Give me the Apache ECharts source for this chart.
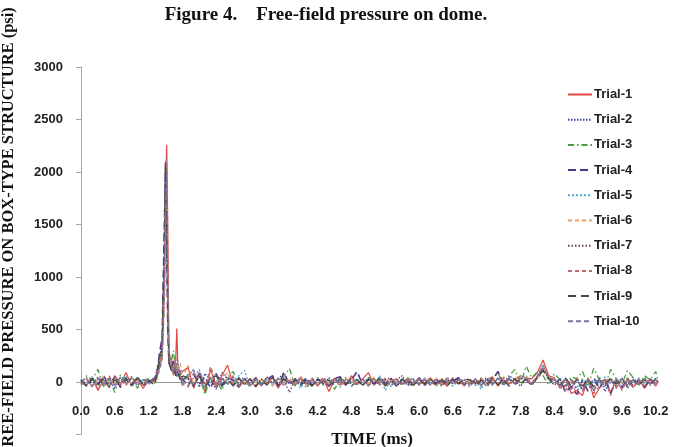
<!DOCTYPE html>
<html>
<head>
<meta charset="utf-8">
<script src="https://cdn.jsdelivr.net/npm/echarts@6/dist/echarts.min.js"></script>
<style>
  html, body { margin: 0; padding: 0; background: #fff; }
  #chart { width: 673px; height: 447px; }
</style>
</head>
<body>
<div id="chart"></div>
<script>
// sample times (ms): coarse 0.1 grid, finer around the blast peak
const times = [
  0.0, 0.1, 0.2, 0.3, 0.4, 0.5, 0.6, 0.7, 0.8, 0.9, 1.0, 1.1, 1.2,
  1.3, 1.35, 1.4, 1.44, 1.48, 1.5, 1.52, 1.54, 1.56, 1.6, 1.64, 1.68, 1.7, 1.72, 1.76, 1.8,
  1.9, 2.0, 2.1, 2.2, 2.3, 2.4, 2.5, 2.6, 2.7, 2.8,
  2.9, 3.0, 3.1, 3.2, 3.3, 3.4, 3.5, 3.6, 3.7, 3.8,
  3.9, 4.0, 4.1, 4.2, 4.3, 4.4, 4.5, 4.6, 4.7, 4.8,
  4.9, 5.0, 5.1, 5.2, 5.3, 5.4, 5.5, 5.6, 5.7, 5.8,
  5.9, 6.0, 6.1, 6.2, 6.3, 6.4, 6.5, 6.6, 6.7, 6.8,
  6.9, 7.0, 7.1, 7.2, 7.3, 7.4, 7.5, 7.6, 7.7, 7.8,
  7.9, 8.0, 8.1, 8.2, 8.3, 8.4, 8.5, 8.6, 8.7, 8.8,
  8.9, 9.0, 9.1, 9.2, 9.3, 9.4, 9.5, 9.6, 9.7, 9.8,
  9.9, 10.0, 10.1, 10.2, 10.24
];

// x labels every 0.6 ms
const xTickStep = 0.6;
const xTicks = [0.0, 0.6, 1.2, 1.8, 2.4, 3.0, 3.6, 4.2, 4.8, 5.4, 6.0, 6.6, 7.2, 7.8, 8.4, 9.0, 9.6, 10.2];

const trial1 = [
  0, -30, 40, -80, 20, -50, 60, -20, 90, -40, 30, -60, 10,
  20, 60, 180, 250, 900, 1800, 2260, 1500, 300, 150, 80, 200, 510, 120, 60, 100,
  140, -60, 90, -100, 120, -40, 60, 160, -30, 40,
  -20, 30, -50, 20, -10, 40, -60, 30, 10, -30,
  50, -20, 20, -40, 30, -90, 20, 10, -30, 60,
  -20, 30, 90, -30, 20, -40, 10, 30, -20, 40,
  -30, 20, -10, 40, -20, 10, -40, 30, -10, 20,
  -20, 30, -30, 20, 50, -40, 20, -20, 30, 60,
  40, 30, 90, 210, 60, 40, -60, 30, -110, -80,
  -130, 40, -150, -60, 30, -100, 20, -70, 40, -50,
  30, -60, 20, -40, 10
];
const trial2 = [
  10, 40, -30, 50, -40, 20, -60, 40, -20, 50, -30, 20, -10,
  10, 120, 240, 380, 1300, 2100, 1700, 600, 200, 250, 120, 60, 180, 90, 40, 20,
  60, 120, -50, 80, 20, -70, 90, 30, -40, 20,
  40, -30, 20, -20, 50, -10, 30, 80, -20, 10,
  -30, 20, -40, 30, -20, 40, -10, 20, -30, 10,
  20, -30, 40, -20, 10, 30, -40, 20, 60, -20,
  10, -20, 30, -30, 20, -10, 40, -20, 10, -30,
  20, -30, 10, 40, -20, 30, -10, 60, 20, -40,
  30, -20, 60, 150, 40, 20, -30, 40, -60, 30,
  -80, 20, -40, 50, -90, 30, -20, 40, -60, 20,
  -30, 40, -20, 30, 0
];
const trial3 = [
  -20, 60, 20, 120, -50, 30, -100, 70, -30, 40, -60, 20, 30,
  -20, 40, 150, 220, 800, 1600, 2050, 900, 260, 180, 300, 120, 80, 150, 60, -40,
  80, -40, 60, -120, 40, 20, -80, 50, 100, -30,
  20, -50, 30, -20, 40, 20, -30, 50, 130, -40,
  30, -60, 20, 40, -30, 20, -70, 30, 10, -40,
  20, -30, 50, -20, 30, -40, 20, 10, -30, 40,
  -20, 30, -10, 20, -40, 30, 10, -20, 40, -30,
  30, -20, 40, -50, 20, 90, -30, 60, 120, -20,
  150, 40, 100, 60, -30, 80, 20, -40, 50, 30,
  100, -30, 130, 20, -40, 120, 30, -20, 110, 40,
  -30, 60, 20, 100, 20
];
const trial4 = [
  20, -40, 30, -20, 60, -30, 40, -50, 20, -20, 40, -30, 0,
  30, 90, 300, 420, 1500, 2080, 1400, 500, 180, 120, 200, 90, 60, 40, 110, 30,
  -40, 70, -20, 50, -60, 80, -30, 40, 20, -50,
  30, -20, 40, -30, 20, 60, -40, 90, -20, 30,
  -20, 40, -30, 20, 10, -40, 30, 50, -20, 20,
  100, -30, 20, -20, 40, -10, 30, -40, 20, 10,
  -20, 40, -30, 20, -10, 30, -20, 10, 40, -30,
  20, -10, 30, -40, 20, 100, -20, 30, -30, 40,
  20, -30, 50, 110, 30, -20, 30, -100, -40, -120,
  20, -90, 40, -60, 30, -110, 20, -50, 30, -40,
  20, -50, 30, -20, 10
];
const trial5 = [
  30, -20, 50, -60, 20, -30, 40, -20, 60, -40, 20, 10, -20,
  0, 70, 160, 260, 1000, 1950, 1600, 700, 220, 160, 90, 140, 60, 200, 50, 10,
  -30, 40, 120, -60, 30, 80, -50, 20, -30, 60,
  110, -40, 30, -20, 20, -30, 40, -20, 10, 30,
  -60, 20, 10, -30, 40, -20, 30, -50, 20, -10,
  30, -20, 40, -30, 60, -80, 20, -20, 30, -40,
  20, -30, 40, -10, 30, -20, 10, -40, 20, 30,
  -50, 20, -70, 30, -20, 40, -30, 20, -10, 50,
  60, -10, 40, 170, 30, -20, 40, -30, 20, -60,
  30, -40, 20, -30, 50, -20, 30, -60, 20, -10,
  40, -20, 30, -30, 10
];
const trial6 = [
  -10, 30, -40, 20, 50, -20, 30, -30, 40, -20, 10, -30, 20,
  -10, 30, 120, 200, 700, 1500, 1900, 1100, 300, 140, 60, 100, 170, 70, 180, 40,
  160, -20, 50, -40, 70, -60, 30, 90, -30, 20,
  -20, 40, -30, 20, 10, -40, 30, -20, 40, -10,
  20, -30, 40, -20, 30, -10, 20, -40, 30, 20,
  -30, 20, -20, 40, -30, 30, -10, 20, -30, 10,
  30, -20, 10, -30, 40, -20, 30, -10, 20, -40,
  20, -30, 40, -20, 30, -40, 50, -20, 30, 20,
  40, -20, 30, 100, 20, 20, -40, 30, -20, 40,
  -30, 20, -60, 30, -20, 40, -40, 30, -30, 20,
  -20, 30, -10, 20, 0
];
const trial7 = [
  20, -30, 40, -40, 30, -20, 50, -30, 20, -40, 30, -20, 10,
  20, 100, 260, 350, 1200, 2000, 1800, 800, 240, 100, 150, 70, 120, 60, 30, 50,
  30, -50, 80, -30, 40, -60, 20, 50, -40, 30,
  -30, 20, -40, 30, -20, 50, -30, 20, -100, 30,
  20, -20, 30, -30, 20, -40, 30, -20, 40, -30,
  -20, 30, -40, 20, -30, 20, 40, -20, 30, -30,
  20, -30, 20, -20, 30, -40, 20, -10, 30, -20,
  -30, 20, -40, 30, -20, 30, -30, 40, -20, 30,
  20, -30, 40, 120, 30, -30, 20, -50, 30, -70,
  -60, 30, -80, 20, -40, 30, -50, 20, -30, 40,
  -20, 30, -30, 20, 10
];
const trial8 = [
  -20, 30, -50, 40, -30, 60, -40, 20, -30, 50, -20, 30, -10,
  10, 50, 200, 300, 1100, 1900, 2150, 1000, 280, 200, 110, 250, 90, 130, 40, -20,
  -50, 90, 30, -70, 150, -20, 40, -30, 60, -40,
  20, -30, 50, -40, 30, -20, 40, -30, 20, -20,
  30, -40, 20, -30, 50, -20, 30, -30, 20, 40,
  -30, 20, -40, 30, -20, 40, -30, 20, -20, 30,
  -20, 30, -30, 20, -40, 30, -20, 40, -30, 20,
  30, -20, 30, -30, 20, -20, 40, -30, 20, -20,
  30, -10, 60, 160, 40, 30, -50, -80, 20, -120,
  -90, 30, -110, -40, 20, -130, 30, -80, 20, -60,
  20, -40, 30, -30, 0
];
const trial9 = [
  10, -40, 30, -30, 40, -50, 20, -20, 40, -30, 50, -20, 20,
  -30, 80, 220, 320, 1400, 2050, 1500, 650, 200, 130, 180, 60, 100, 80, 20, 60,
  40, -30, 60, -50, 30, 60, -40, 20, -30, 40,
  -20, 30, -40, 20, -30, 40, -20, 30, -20, 20,
  -30, 20, -40, 30, -20, 20, -30, 40, -20, 30,
  20, -30, 30, -20, 40, -30, 20, -40, 30, -20,
  -30, 20, -20, 30, -30, 20, -40, 30, -20, 30,
  20, -30, 20, -20, 40, -30, 20, -40, 30, -20,
  30, -20, 40, 110, 30, 20, -30, 40, -40, 30,
  -40, 30, -50, 20, -30, 40, -20, 30, -40, 20,
  -30, 20, -20, 30, 10
];
const trial10 = [
  -30, 20, -40, 30, -20, 40, -30, 50, -20, 30, -40, 20, 0,
  40, 60, 140, 240, 950, 1750, 1980, 850, 250, 170, 70, 160, 50, 110, 90, 0,
  50, -40, 100, -20, 40, -50, 30, -20, 50, -30,
  30, -20, 20, -30, 40, -20, 30, -40, 20, -30,
  20, -30, 30, -20, 20, -30, 40, -20, 30, -20,
  -20, 30, -30, 40, -20, 30, -40, 20, -30, 20,
  30, -20, 30, -30, 20, -30, 40, -20, 20, -30,
  -20, 30, -30, 20, -30, 40, -20, 30, -20, 40,
  20, -20, 50, 130, 40, 20, -40, 30, -70, 20,
  -70, 20, -90, 30, -40, 20, -60, 30, -30, 20,
  -20, 30, -20, 20, 0
];

const trials = [trial1, trial2, trial3, trial4, trial5, trial6, trial7, trial8, trial9, trial10];
const names = ['Trial-1', 'Trial-2', 'Trial-3', 'Trial-4', 'Trial-5', 'Trial-6', 'Trial-7', 'Trial-8', 'Trial-9', 'Trial-10'];
const colors = ['#e0473f', '#34439e', '#47a040', '#55358a', '#4ea6cc', '#ee9a66', '#6e4050', '#c06e6e', '#3c4e42', '#7f6f9a'];
const dashes = ['solid', [1.5, 1.5], [6, 3, 1.5, 3], [8, 4], [2, 2], [4, 3], [1.5, 2], [4, 3], [8, 5], [5, 3]];
const widths = [1.2, 1.3, 1.3, 1.6, 1.3, 1.3, 1.3, 1.3, 1.3, 1.3];

trials.forEach(function (t, i) {
  if (t.length !== times.length) throw new Error(names[i] + ' has ' + t.length + ' values, expected ' + times.length);
});

const chart = echarts.init(document.getElementById('chart'), null, { renderer: 'canvas' });

const labelFont = { fontFamily: 'Liberation Sans', fontWeight: 'bold', fontSize: 13, color: '#222' };

const option = {
  animation: false,
  backgroundColor: '#fff',
  title: [{
    text: 'Figure 4.    Free-field pressure on dome.',
    left: 321, top: 1, textAlign: 'center',
    textStyle: { fontFamily: 'Liberation Serif', fontWeight: 'bold', fontSize: 19, color: '#111' }
  }, {
    text: 'TIME (ms)',
    left: 367, top: 426, textAlign: 'center',
    textStyle: { fontFamily: 'Liberation Serif', fontWeight: 'bold', fontSize: 17, color: '#111' }
  }],
  graphic: [{
    type: 'text',
    x: 9, y: 232, rotation: Math.PI / 2,
    style: {
      text: 'FREE-FIELD PRESSURE ON BOX-TYPE STRUCTURE (psi)',
      font: 'bold 16.5px "Liberation Serif"',
      fill: '#111', align: 'center', verticalAlign: 'middle'
    }
  }],
  legend: {
    orient: 'vertical',
    left: 562, top: 83,
    itemWidth: 24, itemHeight: 12, itemGap: 12.2,
    itemStyle: { opacity: 0 },
    textStyle: Object.assign({ padding: [0, 0, 0, -3] }, labelFont),
    data: names
  },
  grid: { left: 81, top: 67, right: 15, bottom: 12.5, outerBoundsMode: 'none' },
  xAxis: {
    type: 'value',
    min: 0, max: 10.24, interval: xTickStep,
    position: 'bottom',
    offset: -52.5,
    axisLine: { onZero: false, lineStyle: { color: '#9a948c', width: 1 } },
    axisTick: { show: false },
    splitLine: { show: false },
    axisLabel: Object.assign({
      show: true,
      margin: 23,
      hideOverlap: false,
      formatter: function (v) {
        const hit = xTicks.some(function (t) { return Math.abs(t - v) < 1e-6; });
        return hit ? v.toFixed(1) : '';
      }
    }, labelFont)
  },
  yAxis: {
    type: 'value',
    min: -500, max: 3000, interval: 500,
    axisLine: { show: true, lineStyle: { color: '#b0a89e', width: 1 } },
    axisTick: { show: true, length: 5, lineStyle: { color: '#b0a89e' } },
    splitLine: { show: false },
    axisLabel: Object.assign({
      margin: 18,
      formatter: function (v) { return v < 0 ? '' : String(v); }
    }, labelFont)
  },
  series: trials.map(function (vals, i) {
    return {
      name: names[i],
      type: 'line',
      symbol: 'none',
      color: colors[i],
      lineStyle: { color: colors[i], width: widths[i], type: dashes[i] },
      data: vals.map(function (v, k) { return [times[k], v]; })
    };
  })
};

chart.setOption(option);
</script>
</body>
</html>
